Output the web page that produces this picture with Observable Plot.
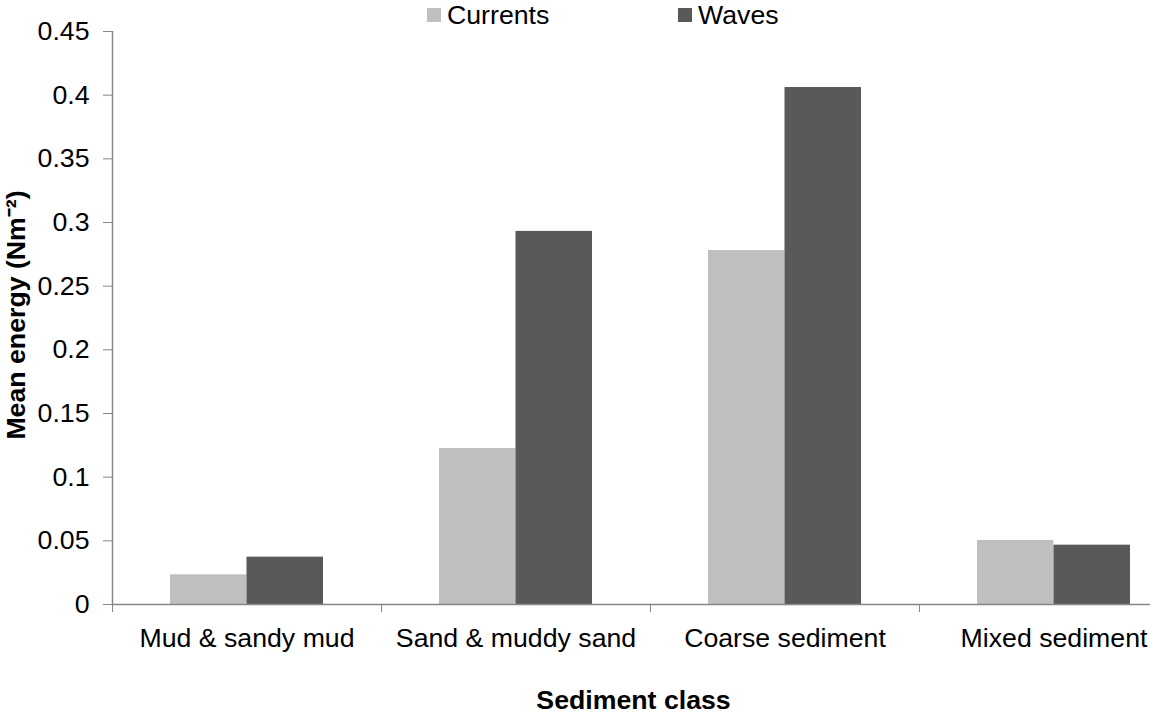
<!DOCTYPE html>
<html><head><meta charset="utf-8">
<script src="https://cdn.jsdelivr.net/npm/d3@7"></script>
<script src="https://cdn.jsdelivr.net/npm/@observablehq/plot@0.6"></script>
<style>
html,body{margin:0;padding:0;background:#fff;overflow:hidden;}
#wrap{position:relative;width:1150px;height:713px;overflow:hidden;font-family:"Liberation Sans",Arial,sans-serif;}
.lg{position:absolute;top:0;font-size:26.7px;line-height:30px;color:#000;display:flex;align-items:center;white-space:nowrap;}
.sw{display:inline-block;width:14px;height:14px;margin-right:6px;}
#wrap svg{position:absolute;left:0;top:0;max-width:none !important;width:1188px !important;height:713px !important;}
</style></head><body><div id="wrap"></div>
<script>
const categories = ["Mud & sandy mud", "Sand & muddy sand", "Coarse sediment", "Mixed sediment"];
const series = ["Currents", "Waves"];
const currents = [0.0233, 0.1225, 0.278, 0.0503];
const waves = [0.0372, 0.293, 0.406, 0.0466];
const yTicks = [0, 0.05, 0.1, 0.15, 0.2, 0.25, 0.3, 0.35, 0.4, 0.45];
const colors = ["#bfbfbf", "#595959"];

const data = [];
categories.forEach((c, i) => {
  data.push({cat: c, i, series: "Currents", value: currents[i]});
  data.push({cat: c, i, series: "Waves", value: waves[i]});
});
const sub = d3.scaleBand(series, [0, 1]).paddingInner(0).paddingOuter(0.758);
const axisColor = "#868686";

const chart = Plot.plot({
  width: 1188,
  height: 713,
  marginLeft: 112,
  marginRight: 0,
  marginTop: 31,
  marginBottom: 109,
  style: {fontSize: "26.7px", fontFamily: '"Liberation Sans", Arial, sans-serif', background: "#fff", color: "#000", overflow: "visible", maxWidth: "none"},
  x: {domain: [0, categories.length]},
  y: {domain: [0, 0.45]},
  color: {domain: series, range: colors},
  marks: [
    Plot.rectY(data, {
      x1: d => d.i + sub(d.series),
      x2: d => d.i + sub(d.series) + sub.bandwidth(),
      y1: 0,
      y2: "value",
      fill: "series"
    }),
    Plot.ruleX([0], {y1: 0, y2: 0.45, stroke: axisColor, strokeWidth: 1.5}),
    Plot.ruleY([0], {stroke: axisColor, strokeWidth: 1.5}),
    Plot.axisY({ticks: yTicks, tickFormat: d => String(+d.toFixed(2)), tickSize: 9, tickPadding: 14, stroke: axisColor, label: null}),
    Plot.axisX({ticks: d3.range(categories.length + 1), tickFormat: () => "", tickSize: 8, stroke: axisColor, label: null}),
    Plot.axisX({ticks: categories.map((c, i) => i + 0.5), tickFormat: d => categories[Math.floor(d)], tickSize: 0, tickPadding: 24, label: null}),
    Plot.text(["Mean energy (Nm⁻²)"], {frameAnchor: "left", textAnchor: "middle", lineAnchor: "middle", rotate: -90, dx: -96, dy: -3, fontWeight: "bold", fontSize: 26.7}),
    Plot.text(["Sediment class"], {frameAnchor: "bottom", textAnchor: "middle", lineAnchor: "bottom", dx: -17, dy: 104, fontWeight: "bold", fontSize: 26.7})
  ]
});
const wrap = document.getElementById("wrap");
wrap.appendChild(chart);

const legendX = [427, 678];
series.forEach((s, k) => {
  const item = document.createElement("div");
  item.className = "lg";
  item.style.left = legendX[k] + "px";
  const sw = document.createElement("span");
  sw.className = "sw";
  sw.style.background = colors[k];
  item.appendChild(sw);
  item.appendChild(document.createTextNode(s));
  wrap.appendChild(item);
});
</script>
</body></html>
